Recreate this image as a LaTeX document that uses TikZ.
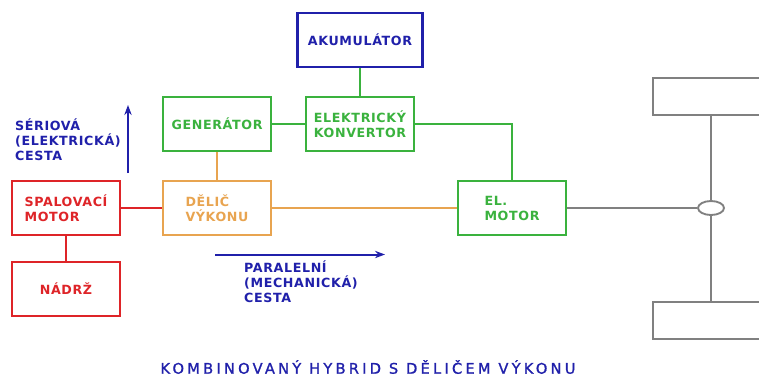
\documentclass[tikz,border=0pt]{standalone}
\usepackage{fontspec}
\setmainfont{DejaVu Sans}
\newfontfamily\titlefont[LetterSpace=22,FakeBold=1.2]{DejaVu Sans}
\usepackage{tikz}
\usetikzlibrary{arrows.meta,shapes.geometric}
\usepackage{xcolor}
\definecolor{hybred}{RGB}{222,36,40}
\definecolor{hyborange}{RGB}{232,164,80}
\definecolor{hybgreen}{RGB}{58,178,62}
\definecolor{hybblue}{RGB}{32,32,170}
\definecolor{hybgrey}{RGB}{128,128,128}
\newcommand{\lblfont}{\fontsize{10.8}{12.8}\selectfont\bfseries\addfontfeature{LetterSpace=5}}

\begin{document}
\begin{tikzpicture}[x=0.3mm, y=-0.3mm,
    box/.style={rectangle, draw, line width=1.8pt, minimum width=32.4mm, minimum height=16.2mm, font=\lblfont, align=left},
    wheel/.style={rectangle, draw=hybgrey, line width=1.8pt, minimum width=38mm, minimum height=11.1mm},
    link/.style={line width=1.7pt},
    flowarrow/.style={-{Stealth[length=3mm, width=2.2mm]}, line width=1.7pt, hybblue},
    note/.style={font=\lblfont, text=hybblue, align=left, anchor=west}
]
    \useasboundingbox (0,0) rectangle (759,376);
    \clip (0,0) rectangle (759,376);

    % blocks
    \node[box, draw=hybblue, text=hybblue, minimum width=37.5mm] (akum) at (360,40) {AKUMULÁTOR};
    \node[box, draw=hybgreen, text=hybgreen] (gen) at (217,124) {GENERÁTOR};
    \node[box, draw=hybgreen, text=hybgreen] (konv) at (360,124) {ELEKTRICKÝ\\KONVERTOR};
    \node[box, draw=hybred, text=hybred] (spal) at (66,208) {SPALOVACÍ\\MOTOR};
    \node[box, draw=hyborange, text=hyborange] (delic) at (217,208) {DĚLIČ\\VÝKONU};
    \node[box, draw=hybgreen, text=hybgreen] (elmot) at (512,208) {EL.\\MOTOR};
    \node[box, draw=hybred, text=hybred] (nadrz) at (66,289) {NÁDRŽ};

    % wheels and axle
    \node[wheel] (wtop) at (716,96.5) {};
    \node[wheel] (wbot) at (716,320.5) {};
    \node[ellipse, draw=hybgrey, line width=1.6pt, fill=white, minimum width=7.8mm, minimum height=4.2mm, inner sep=0pt] (hub) at (711,208) {};

    % connections
    \draw[link, hybgreen] (akum.south -| konv.north) -- (konv.north);
    \draw[link, hybgreen] (gen.east) -- (konv.west);
    \draw[link, hybgreen] (konv.east) -| (elmot.north);
    \draw[link, hyborange] (gen.south) -- (delic.north);
    \draw[link, hybred] (spal.east) -- (delic.west);
    \draw[link, hybred] (spal.south) -- (nadrz.north);
    \draw[line width=0.9pt, hyborange] (delic.east) -- (elmot.west);
    \draw[link, hybgrey] (elmot.east) -- (hub.west);
    \draw[link, hybgrey] (hub.north |- wtop.south) -- (hub.north);
    \draw[link, hybgrey] (hub.south) -- (hub.south |- wbot.north);

    % power paths
    \coordinate (serA) at (128,173);
    \coordinate (serB) at (128,105);
    \coordinate (parA) at (215,254.5);
    \coordinate (parB) at (385,254.5);
    \draw[flowarrow] (serA) -- (serB);
    \draw[flowarrow] (parA) -- (parB);
    \node[note] (sertxt) at (11,140) {SÉRIOVÁ\\(ELEKTRICKÁ)\\CESTA};
    \node[note] (partxt) at (240,282) {PARALELNÍ\\(MECHANICKÁ)\\CESTA};

    \node[text=hybblue, font=\titlefont\fontsize{12.5}{14}\selectfont] (title) at (368,367) {KOMBINOVANÝ HYBRID S DĚLIČEM VÝKONU};
\end{tikzpicture}
\end{document}
